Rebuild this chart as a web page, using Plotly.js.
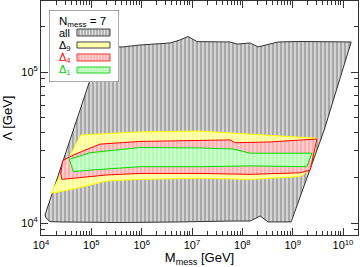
<!DOCTYPE html>
<html>
<head>
<meta charset="utf-8">
<script src="https://cdn.plot.ly/plotly-3.0.1.min.js"></script>
<style>html,body{margin:0;padding:0;background:#fff;}#chart{width:360px;height:267px;}</style>
</head>
<body>
<div id="chart"></div>
<script>
// ---- data ----
const allM = [1.56e5, 4.27e5, 9.29e5, 3.67e6, 5.79e6, 8.36e6, 1.26e7, 5.71e7, 7.89e7, 1.43e8, 2.06e8, 5.15e8, 1.41e9, 5.57e9, 1.455e10,
              4.23e9, 9.33e8, 3.26e8, 2.26e8, 1.43e8, 5.71e7, 5.79e6, 3.72e5, 2.39e4, 1.51e4, 1.26e4, 1.20e4, 1.56e5];
const allL = [1.466e5, 1.466e5, 1.51e5, 1.556e5, 1.63e5, 1.718e5, 1.589e5, 1.581e5, 1.531e5, 1.556e5, 1.466e5, 1.581e5, 1.592e5, 1.592e5, 1.581e5,
              4.13e4, 1.016e4, 1.016e4, 1.112e4, 1.03e4, 1.03e4, 1.016e4, 1.007e4, 1.016e4, 1.021e4, 1.079e4, 1.13e4, 1.466e5];

const d9M = [6.15e4, 9.29e5, 1.45e7, 1.43e8, 3.03e9, 2.63e9, 1.77e9, 1.41e9, 1.43e8, 1.45e7, 9.29e5, 2.02e5, 4.39e4, 1.58e4, 6.15e4];
const d9L = [3.83e4, 4.01e4, 4.06e4, 3.88e4, 3.64e4, 2.82e4, 2.14e4, 2.03e4, 1.945e4, 1.977e4, 1.945e4, 1.897e4, 1.679e4, 1.574e4, 3.83e4];

const d4M = [2.70e4, 4.39e4, 9.42e4, 1.49e5, 9.29e5, 1.45e7, 5.71e7, 7.19e7, 3.57e8, 3.03e9, 2.23e9, 1.41e9, 1.43e8, 1.45e7, 9.29e5, 2.02e5, 4.39e4, 2.58e4, 2.47e4, 2.70e4];
const d4L = [2.59e4, 2.82e4, 3.13e4, 3.33e4, 3.47e4, 3.55e4, 3.55e4, 3.40e4, 3.44e4, 3.60e4, 2.24e4, 2.15e4, 2.10e4, 2.13e4, 2.13e4, 2.08e4, 1.977e4, 1.945e4, 2.14e4, 2.59e4];

const d1M = [3.66e4, 4.39e4, 9.42e4, 9.29e5, 1.45e7, 1.43e8, 1.91e9, 2.41e9, 1.41e9, 1.43e8, 6.56e7, 1.45e7, 9.29e5, 9.42e4, 3.66e4];
const d1L = [2.64e4, 2.19e4, 2.24e4, 2.36e4, 2.36e4, 2.39e4, 2.36e4, 2.90e4, 2.90e4, 2.90e4, 3.09e4, 3.14e4, 3.16e4, 2.92e4, 2.64e4];

const xTickVals = [1e4, 1e5, 1e6, 1e7, 1e8, 1e9, 1e10];
const xTickText = ['10<sup>4</sup>', '10<sup>5</sup>', '10<sup>6</sup>', '10<sup>7</sup>', '10<sup>8</sup>', '10<sup>9</sup>', '10<sup>10</sup>'];
const yTickVals = [1e4, 1e5];
const yTickText = ['10<sup>4</sup>', '10<sup>5</sup>'];

const seriesNames = ['all', 'Δ<sub>9</sub>', 'Δ<sub>4</sub>', 'Δ<sub>1</sub>'];
const legendHeader = 'N<sub>mess</sub> = 7';

// ---- styles ----
const styles = [
  {line: '#333333', bg: '#a8a8a8', fg: '#e2e2e2', sol: 0.38, text: '#000000', swLine: '#444444'},
  {line: '#ffff00', bg: '#ffff84', fg: '#ffffd8', sol: 0.4, text: '#000000', swLine: '#444444'},
  {line: '#ff0000', bg: '#ffaeae', fg: '#ffd8d8', sol: 0.4, text: '#ff0000', swLine: '#ff3030'},
  {line: '#00dd00', bg: '#aeffae', fg: '#dcffdc', sol: 0.4, text: '#00cc00', swLine: '#20d020'}
];
const polys = [[allM, allL], [d9M, d9L], [d4M, d4L], [d1M, d1L]];

function minorVals(lo, hi) {
  const v = [];
  for (let e = lo; e <= hi; e++) for (let k = 2; k <= 9; k++) v.push(k * Math.pow(10, e));
  return v;
}

const traces = polys.map((p, i) => ({
  type: 'scatter', mode: 'lines', x: p[0], y: p[1], fill: 'toself',
  line: {color: styles[i].line, width: 1},
  fillcolor: styles[i].bg,
  fillpattern: {shape: '|', bgcolor: styles[i].bg, fgcolor: styles[i].fg, size: 4, solidity: styles[i].sol},
  hoverinfo: 'skip', xaxis: 'x', yaxis: 'y'
}));

// legend box (overlay subplot)
traces.push({type: 'scatter', mode: 'lines', x: [0, 1, 1, 0, 0], y: [0, 0, 1, 1, 0], fill: 'toself',
  fillcolor: '#ffffff', line: {color: '#555555', width: 1}, xaxis: 'x2', yaxis: 'y2', hoverinfo: 'skip'});
const swY = [[0.639, 0.736], [0.472, 0.556], [0.292, 0.389], [0.125, 0.208]];
const swX = [0.40, 0.871];
const annY = [0.685, 0.505, 0.335, 0.16];
const annotations = [{xref: 'x2', yref: 'y2', x: 0.12, y: 0.84, xanchor: 'left', yanchor: 'middle', showarrow: false,
  text: legendHeader, font: {size: 11.5, color: '#000'}}];
seriesNames.forEach((n, i) => {
  traces.push({type: 'scatter', mode: 'lines', x: [swX[0], swX[1], swX[1], swX[0], swX[0]],
    y: [swY[i][0], swY[i][0], swY[i][1], swY[i][1], swY[i][0]], fill: 'toself',
    line: {color: styles[i].swLine, width: 1}, fillcolor: styles[i].bg,
    fillpattern: {shape: '|', bgcolor: styles[i].bg, fgcolor: styles[i].fg, size: 3, solidity: 0.45},
    xaxis: 'x2', yaxis: 'y2', hoverinfo: 'skip'});
  annotations.push({xref: 'x2', yref: 'y2', x: 0.12, y: annY[i], xanchor: 'left', yanchor: 'middle', showarrow: false,
    text: n, font: {size: 11, color: styles[i].text}});
});

const axCommon = {
  type: 'log', showgrid: false, zeroline: false, showline: true, linecolor: '#333', linewidth: 1,
  mirror: 'ticks', ticks: 'inside', ticklen: 7, tickcolor: '#333', tickwidth: 1,
  tickmode: 'array', tickfont: {size: 11, color: '#000'}
};

const layout = {
  width: 360, height: 267, margin: {l: 41, r: 2, t: 1, b: 32},
  paper_bgcolor: '#fff', plot_bgcolor: '#fff', showlegend: false,
  font: {family: '"Liberation Sans", Arial, sans-serif', color: '#000'},
  xaxis: Object.assign({}, axCommon, {
    range: [4, 10.298], tickvals: xTickVals, ticktext: xTickText,
    minor: {tickmode: 'array', tickvals: minorVals(4, 10), ticks: 'inside', ticklen: 4, tickcolor: '#333'},
    title: {text: 'M<sub>mess</sub> [GeV]', font: {size: 13}, standoff: 2}
  }),
  yaxis: Object.assign({}, axCommon, {
    range: [3.9205, 5.4702], tickvals: yTickVals, ticktext: yTickText,
    minor: {tickmode: 'array', tickvals: minorVals(3, 5), ticks: 'inside', ticklen: 4, tickcolor: '#333'},
    title: {text: 'Λ [GeV]', font: {size: 13}, standoff: 5}
  }),
  xaxis2: {domain: [0.0252, 0.2461], range: [0, 1], visible: false, anchor: 'y2', fixedrange: true},
  yaxis2: {domain: [0.6538, 0.9615], range: [0, 1], visible: false, anchor: 'x2', fixedrange: true},
  annotations: annotations
};

Plotly.newPlot('chart', traces, layout, {staticPlot: true, displayModeBar: false});
</script>
</body>
</html>
